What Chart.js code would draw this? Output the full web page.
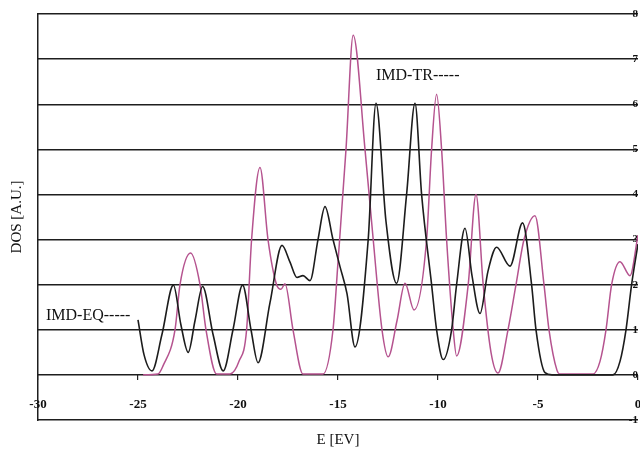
<!DOCTYPE html>
<html>
<head>
<meta charset="utf-8">
<script src="https://cdn.jsdelivr.net/npm/chart.js@4"></script>
<style>
  html, body { margin: 0; padding: 0; background: #fff; }
  #wrap { width: 640px; height: 450px; }
</style>
</head>
<body>
<div id="wrap"><canvas id="dos-chart" width="640" height="450"></canvas></div>
<script>
// energy axis (eV) and DOS readings for the two curves
const eqEnergy = [-25, -24.7, -24.3, -23.8, -23.23, -22.85, -22.49, -22.15, -21.77, -21.25, -20.74, -20.25, -19.77, -19.35, -19.0, -18.4, -17.8, -17.4, -17.05, -16.75, -16.4, -16.0, -15.65, -15.25, -14.9, -14.55, -14.15, -13.49, -13.1, -12.6, -12.07, -11.57, -11.15, -10.82, -10.32, -10.07, -9.74, -9.32, -9.07, -8.65, -8.3, -7.9, -7.5, -7.07, -6.4, -5.77, -5.32, -5.1, -4.65, -4.3, -1.25, -0.9, -0.6, -0.32, 0];
const eqDos = [1.22, 0.45, 0.09, 0.9, 1.99, 1.1, 0.5, 1.2, 1.96, 0.9, 0.09, 1.0, 1.99, 1.0, 0.27, 1.6, 2.87, 2.5, 2.16, 2.2, 2.09, 3.0, 3.73, 3.0, 2.4, 1.8, 0.62, 3.0, 6.02, 3.4, 2.03, 4.0, 6.02, 4.0, 2.0, 1.0, 0.34, 1.0, 2.0, 3.25, 2.2, 1.36, 2.3, 2.83, 2.41, 3.37, 2.0, 1.0, 0.05, 0.0, 0.0, 0.3, 1.0, 2.0, 2.9];

const trEnergy = [-24.75, -24.0, -23.75, -23.15, -22.9, -22.37, -21.9, -21.6, -21.07, -20.4, -19.95, -19.57, -19.32, -18.9, -18.5, -18.07, -17.85, -17.65, -17.25, -16.75, -15.75, -15.25, -15.0, -14.6, -14.24, -13.65, -13.24, -12.8, -12.49, -12.05, -11.65, -11.2, -10.57, -10.32, -10.07, -9.82, -9.57, -9.24, -9.07, -8.49, -8.1, -7.74, -7.35, -7.0, -6.5, -6.1, -5.7, -5.15, -4.7, -4.45, -4.05, -3.9, -2.25, -1.9, -1.6, -1.32, -0.9, -0.4, 0];
const trDos = [0, 0.02, 0.2, 1.0, 2.0, 2.7, 2.0, 1.0, 0.02, 0.02, 0.3, 1.0, 3.0, 4.6, 3.0, 2.0, 1.9, 2.02, 1.0, 0.02, 0.02, 1.0, 2.5, 5.0, 7.53, 5.0, 3.0, 1.0, 0.4, 1.2, 2.03, 1.44, 3.0, 5.0, 6.22, 5.0, 3.0, 1.0, 0.42, 2.0, 4.0, 2.0, 0.5, 0.04, 1.0, 2.0, 3.0, 3.53, 2.0, 1.0, 0.1, 0.02, 0.02, 0.3, 1.0, 2.0, 2.51, 2.2, 3.1];

const xTicks = [-30, -25, -20, -15, -10, -5, 0];
const yTicks = [-1, 0, 1, 2, 3, 4, 5, 6, 7, 8];

// curve labels: [text, energy, dos]
const curveLabels = [
    ['IMD-TR-----', -13.1, 6.64],
    ['IMD-EQ-----', -29.6, 1.31]
];

const toPoints = (xs, ys) => xs.map((x, i) => ({ x: x, y: ys[i] }));

Chart.defaults.font.family = '"Liberation Serif", "DejaVu Serif", serif';
Chart.defaults.color = '#111';

// writes the curve names next to the lines
const curveLabelPlugin = {
    id: 'curveLabels',
    afterDatasetsDraw(chart) {
        const ctx = chart.ctx;
        const xs = chart.scales.x;
        const ys = chart.scales.y;
        ctx.save();
        ctx.font = '16px "Liberation Serif", serif';
        ctx.fillStyle = '#111';
        ctx.textAlign = 'left';
        ctx.textBaseline = 'middle';
        curveLabels.forEach(l => {
            ctx.fillText(l[0], xs.getPixelForValue(l[1]), ys.getPixelForValue(l[2]));
        });
        ctx.restore();
    }
};

const dosCanvas = document.getElementById('dos-chart');

let dosChart = new Chart(dosCanvas, {
    type: 'line',
    data: {
        datasets: [{
            label: 'IMD-EQ',
            data: toPoints(eqEnergy, eqDos),
            borderColor: '#1c1c1c',
            borderWidth: 1.6,
            pointRadius: 0,
            cubicInterpolationMode: 'monotone',
            xAxisID: 'x',
            yAxisID: 'y'
        }, {
            label: 'IMD-TR',
            data: toPoints(trEnergy, trDos),
            borderColor: '#b5538f',
            borderWidth: 1.5,
            pointRadius: 0,
            cubicInterpolationMode: 'monotone',
            xAxisID: 'x',
            yAxisID: 'y'
        }]
    },
    options: {
        responsive: false,
        animation: false,
        layout: { padding: { left: 0, right: 0, top: 14, bottom: 0 } },
        plugins: {
            legend: { display: false },
            tooltip: { enabled: false }
        },
        scales: {
            x: {
                type: 'linear',
                position: { y: 0 },
                min: -30,
                max: 0,
                afterBuildTicks: s => { s.ticks = xTicks.map(v => ({ value: v })); },
                afterFit: s => { s.paddingLeft = 0; s.paddingRight = 0; },
                ticks: {
                    autoSkip: false,
                    maxRotation: 0,
                    padding: 17,
                    font: { size: 13, weight: 'bold' },
                    color: '#111'
                },
                grid: {
                    display: true,
                    drawOnChartArea: false,
                    drawTicks: true,
                    tickLength: 5,
                    color: '#222',
                    lineWidth: 1.2
                },
                border: { display: false }
            },
            xTitle: {
                type: 'linear',
                position: 'bottom',
                min: -30,
                max: 0,
                ticks: { display: false },
                grid: { display: false },
                border: { display: false },
                title: {
                    display: true,
                    text: 'E [EV]',
                    font: { size: 15 },
                    padding: { top: 0, bottom: 1 },
                    color: '#111'
                },
                afterFit: s => { s.height = 30; s.paddingLeft = 0; s.paddingRight = 0; }
            },
            y: {
                type: 'linear',
                position: 'right',
                min: -1,
                max: 8,
                afterBuildTicks: s => { s.ticks = yTicks.map(v => ({ value: v })); },
                ticks: {
                    mirror: true,
                    padding: 0,
                    font: { size: 11, weight: 'bold' },
                    color: '#111'
                },
                grid: {
                    color: '#1e1e1e',
                    lineWidth: 1.4,
                    drawTicks: false
                },
                border: { display: false },
                afterFit: s => { s.width = 2; }
            },
            yTitle: {
                type: 'linear',
                position: 'left',
                min: -1,
                max: 8,
                ticks: { display: false },
                grid: { display: false },
                border: { display: true, color: '#1e1e1e', width: 1.5 },
                title: {
                    display: true,
                    text: 'DOS [A.U.]',
                    font: { size: 15 },
                    padding: { top: 8, bottom: 0 },
                    color: '#111'
                },
                afterFit: s => { s.width = 38; }
            }
        }
    },
    plugins: [curveLabelPlugin]
});
</script>
</body>
</html>
